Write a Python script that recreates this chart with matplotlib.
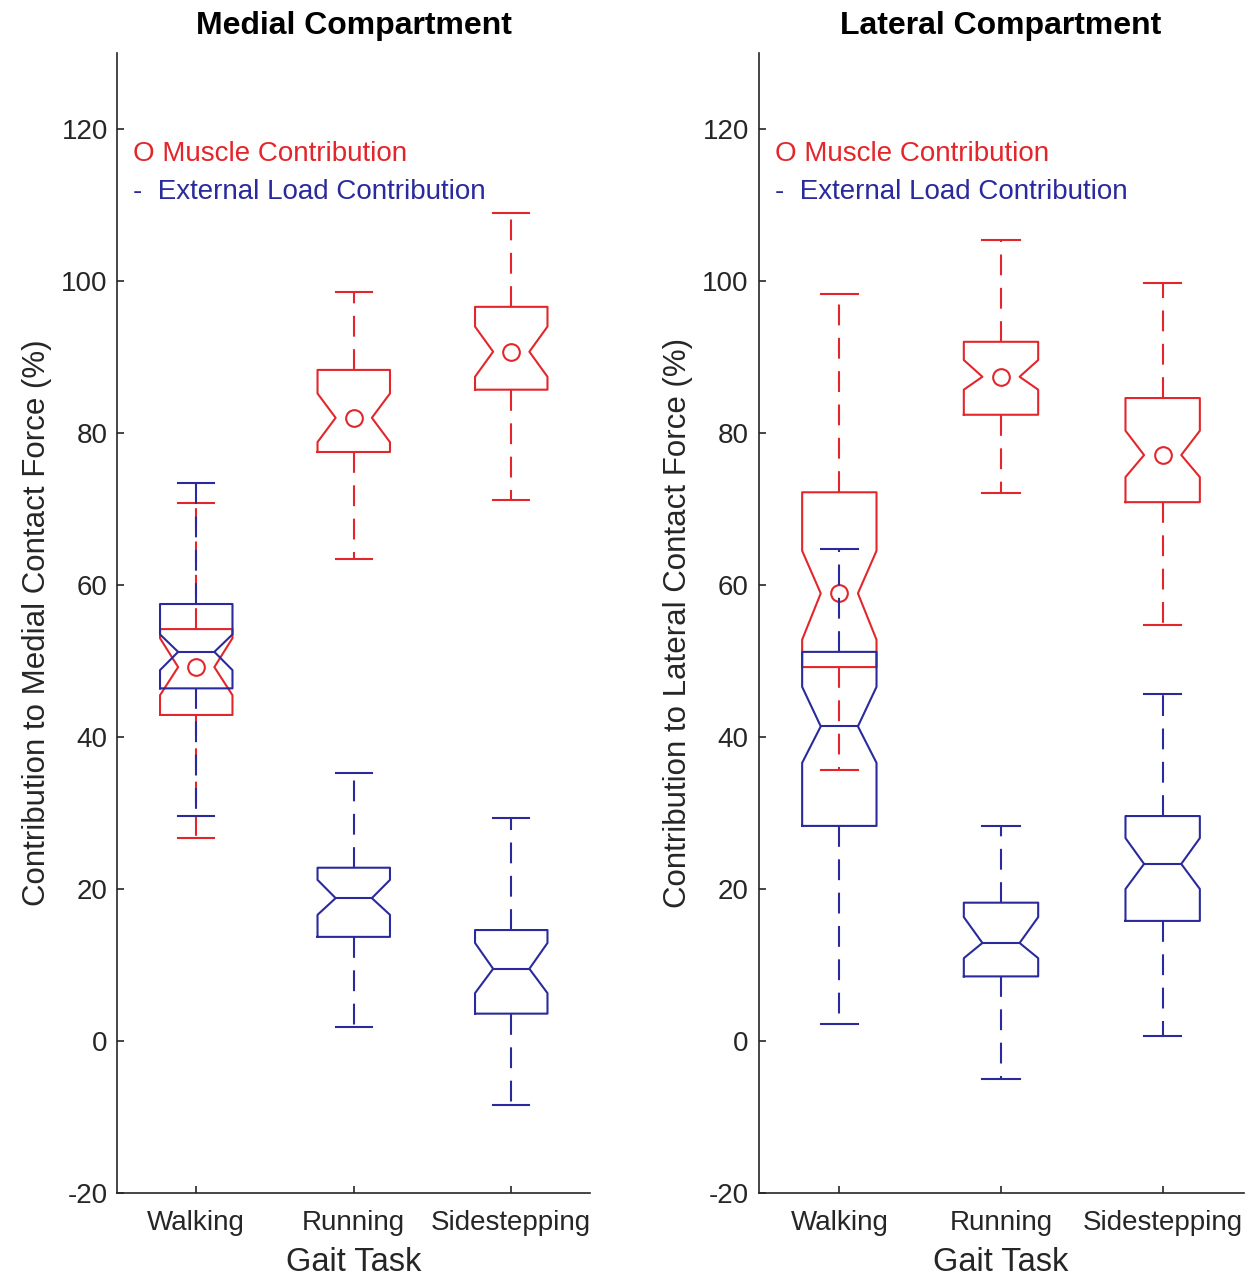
import matplotlib
matplotlib.use("Agg")
import matplotlib.pyplot as plt

plt.rcParams["font.family"] = ["Liberation Sans", "DejaVu Sans"]
plt.rcParams["axes.unicode_minus"] = False

tasks = ["Walking", "Running", "Sidestepping"]
yticks = [-20, 0, 20, 40, 60, 80, 100, 120]

# per-task box stats (whislo, q1, med, q3, whishi, cilo, cihi)
med_muscle_lo = [26.7, 63.4, 71.2]
med_muscle_q1 = [42.9, 77.5, 85.7]
med_muscle_med = [49.2, 82.0, 90.7]
med_muscle_q3 = [54.2, 88.3, 96.6]
med_muscle_hi = [70.8, 98.6, 108.9]
med_muscle_cilo = [45.5, 78.8, 87.4]
med_muscle_cihi = [53.0, 85.2, 94.0]

med_ext_lo = [29.6, 1.9, -8.4]
med_ext_q1 = [46.4, 13.7, 3.6]
med_ext_med = [51.2, 18.8, 9.5]
med_ext_q3 = [57.5, 22.8, 14.6]
med_ext_hi = [73.4, 35.3, 29.3]
med_ext_cilo = [48.8, 16.6, 6.3]
med_ext_cihi = [53.5, 21.2, 12.9]

lat_muscle_lo = [35.6, 72.1, 54.8]
lat_muscle_q1 = [49.2, 82.4, 70.9]
lat_muscle_med = [58.9, 87.4, 77.1]
lat_muscle_q3 = [72.2, 92.0, 84.6]
lat_muscle_hi = [98.3, 105.4, 99.7]
lat_muscle_cilo = [52.8, 85.7, 74.2]
lat_muscle_cihi = [64.5, 89.6, 80.3]

lat_ext_lo = [2.2, -5.0, 0.7]
lat_ext_q1 = [28.3, 8.5, 15.8]
lat_ext_med = [41.4, 12.9, 23.3]
lat_ext_q3 = [51.2, 18.2, 29.6]
lat_ext_hi = [64.7, 28.3, 45.6]
lat_ext_cilo = [36.6, 10.9, 20.0]
lat_ext_cihi = [46.6, 16.3, 26.7]

RED = "#e3262c"
BLUE = "#2a2a9c"
TXT = "#262626"


def make_stats(lo, q1, med, q3, hi, cilo, cihi):
    stats = []
    for i in range(len(lo)):
        stats.append(dict(whislo=lo[i], q1=q1[i], med=med[i], q3=q3[i],
                          whishi=hi[i], cilo=cilo[i], cihi=cihi[i], fliers=[]))
    return stats


def draw_boxes(ax, stats, color, circle):
    pos = list(range(1, len(stats) + 1))
    lw = 1.5
    ax.bxp(stats, positions=pos, widths=0.46, shownotches=True,
           showfliers=False, manage_ticks=False,
           boxprops=dict(color=color, lw=lw),
           whiskerprops=dict(color=color, lw=lw, linestyle=(0, (10, 6))),
           capprops=dict(color=color, lw=lw),
           medianprops=dict(color=color, lw=lw,
                            linestyle="none" if circle else "-"))
    if circle:
        ax.plot(pos, [s["med"] for s in stats], "o", ms=12, mfc="none",
                mec=color, mew=1.5, ls="none")


def style_axes(ax, title, ylabel):
    ax.set_xlim(0.5, 3.5)
    ax.set_ylim(-20, 130)
    ax.set_yticks(yticks)
    ax.set_xticks([1, 2, 3])
    ax.set_xticklabels(tasks)
    ax.spines["top"].set_visible(False)
    ax.spines["right"].set_visible(False)
    for sp in ("left", "bottom"):
        ax.spines[sp].set_color(TXT)
        ax.spines[sp].set_linewidth(1.2)
    ax.tick_params(direction="in", length=5, width=1.2, color=TXT,
                   labelcolor=TXT, labelsize=20)
    ax.tick_params(axis="x", pad=12)
    ax.tick_params(axis="y", pad=7)
    ax.set_title(title, fontsize=23, fontweight="bold", color="black", pad=14)
    ax.set_ylabel(ylabel, fontsize=22.5, color=TXT, labelpad=7)
    ax.set_xlabel("Gait Task", fontsize=23.5, color=TXT, labelpad=8)
    ax.text(0.033, 116.7, "O Muscle Contribution", color=RED, fontsize=20,
            va="center", ha="left", transform=ax.get_yaxis_transform())
    ax.text(0.033, 111.7, "-  External Load Contribution", color=BLUE,
            fontsize=20, va="center", ha="left",
            transform=ax.get_yaxis_transform())


fig = plt.figure(figsize=(12.51, 12.78), dpi=100, facecolor="white")
W, H = 1251.0, 1278.0
ax1 = fig.add_axes([117.5 / W, 85 / H, 472.5 / W, 1140 / H])
ax2 = fig.add_axes([758.5 / W, 85 / H, 485 / W, 1140 / H])

draw_boxes(ax1, make_stats(med_muscle_lo, med_muscle_q1, med_muscle_med, med_muscle_q3,
                           med_muscle_hi, med_muscle_cilo, med_muscle_cihi), RED, True)
draw_boxes(ax1, make_stats(med_ext_lo, med_ext_q1, med_ext_med, med_ext_q3,
                           med_ext_hi, med_ext_cilo, med_ext_cihi), BLUE, False)
style_axes(ax1, "Medial Compartment", "Contribution to Medial Contact Force (%)")

draw_boxes(ax2, make_stats(lat_muscle_lo, lat_muscle_q1, lat_muscle_med, lat_muscle_q3,
                           lat_muscle_hi, lat_muscle_cilo, lat_muscle_cihi), RED, True)
draw_boxes(ax2, make_stats(lat_ext_lo, lat_ext_q1, lat_ext_med, lat_ext_q3,
                           lat_ext_hi, lat_ext_cilo, lat_ext_cihi), BLUE, False)
style_axes(ax2, "Lateral Compartment", "Contribution to Lateral Contact Force (%)")

fig.savefig("out.png", dpi=100, facecolor="white")
